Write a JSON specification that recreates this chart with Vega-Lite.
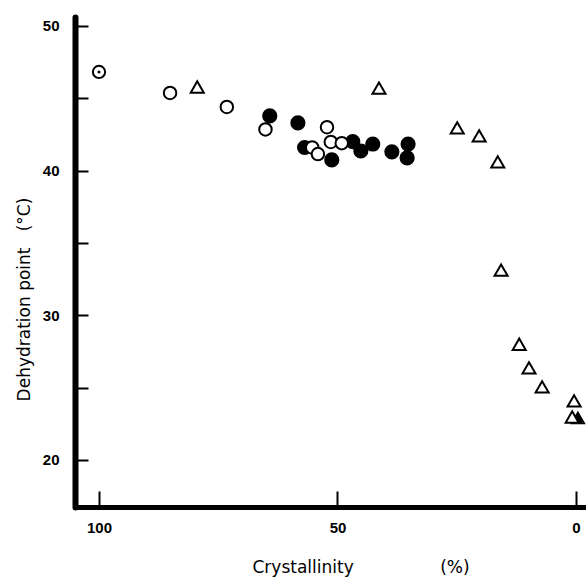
{
  "$schema": "https://vega.github.io/schema/vega-lite/v6.json",
  "autosize": {"type": "none"},
  "padding": {"left": 75, "top": 17, "right": 0, "bottom": 70},
  "width": 511,
  "height": 490,
  "background": "white",
  "config": {"view": {"stroke": null}},
  "data": {"values": [
    {"x": 100, "y": 46.82, "type": "dot"},
    {"x": 85.1, "y": 45.37, "type": "open"},
    {"x": 73.2, "y": 44.4, "type": "open"},
    {"x": 65.1, "y": 42.85, "type": "open"},
    {"x": 55.3, "y": 41.6, "type": "open"},
    {"x": 54.1, "y": 41.15, "type": "open"},
    {"x": 52.2, "y": 43.0, "type": "open"},
    {"x": 51.4, "y": 41.98, "type": "open"},
    {"x": 49.1, "y": 41.9, "type": "open"},
    {"x": 64.2, "y": 43.78, "type": "filled"},
    {"x": 58.3, "y": 43.3, "type": "filled"},
    {"x": 56.9, "y": 41.6, "type": "filled"},
    {"x": 51.2, "y": 40.74, "type": "filled"},
    {"x": 46.8, "y": 42.0, "type": "filled"},
    {"x": 45.1, "y": 41.36, "type": "filled"},
    {"x": 42.6, "y": 41.84, "type": "filled"},
    {"x": 38.6, "y": 41.3, "type": "filled"},
    {"x": 35.2, "y": 41.84, "type": "filled"},
    {"x": 35.4, "y": 40.88, "type": "filled"},
    {"x": 79.4, "y": 45.78, "type": "tri"},
    {"x": 41.3, "y": 45.7, "type": "tri"},
    {"x": 24.9, "y": 42.95, "type": "tri"},
    {"x": 20.3, "y": 42.4, "type": "tri"},
    {"x": 16.4, "y": 40.6, "type": "tri"},
    {"x": 15.7, "y": 33.13, "type": "tri"},
    {"x": 11.9, "y": 28.0, "type": "tri"},
    {"x": 9.85, "y": 26.36, "type": "tri"},
    {"x": 7.1, "y": 25.05, "type": "tri"},
    {"x": 0.4, "y": 24.08, "type": "tri"},
    {"x": 0.8, "y": 22.97, "type": "tri"},
    {"x": -0.4, "y": 22.9, "type": "trifilled"}
  ]},
  "encoding": {
    "x": {
      "field": "x", "type": "quantitative",
      "scale": {"domain": [-2.1, 105.03], "reverse": true, "nice": false, "zero": false},
      "axis": {
        "values": [0, 50, 100],
        "grid": false,
        "domainColor": "black", "domainWidth": 5,
        "tickColor": "black", "tickWidth": 2, "tickSize": -16,
        "labelPadding": 29, "labelFlush": false,
        "labelFont": "Liberation Sans", "labelFontSize": 15, "labelFontWeight": "bold", "labelColor": "black",
        "title": "Crystallinity\u00a0\u00a0\u00a0\u00a0\u00a0\u00a0\u00a0\u00a0\u00a0\u00a0\u00a0\u00a0\u00a0\u00a0\u00a0\u00a0(%)",
        "titleFont": "DejaVu Sans", "titleFontSize": 17, "titleFontWeight": "normal", "titleColor": "black",
        "titleAnchor": "start", "titleAlign": "left", "titleBaseline": "alphabetic",
        "titleX": 177, "titleY": 65
      }
    },
    "y": {
      "field": "y", "type": "quantitative",
      "scale": {"domain": [16.75, 50.62], "nice": false, "zero": false},
      "axis": {
        "values": [20, 25, 30, 35, 40, 45, 50],
        "labelExpr": "datum.value % 10 === 0 ? datum.label : ''",
        "grid": false,
        "domainColor": "black", "domainWidth": 6, "domainCap": "round",
        "tickColor": "black", "tickWidth": 2, "tickSize": -13,
        "labelPadding": 29,
        "labelFont": "Liberation Sans", "labelFontSize": 15, "labelFontWeight": "bold", "labelColor": "black",
        "title": "Dehydration point\u00a0\u00a0\u00a0(°C)",
        "titleFont": "DejaVu Sans", "titleFontSize": 17, "titleFontWeight": "normal", "titleColor": "black",
        "titleAngle": -90, "titleAlign": "center", "titleBaseline": "alphabetic",
        "titleX": -46, "titleY": 282
      }
    }
  },
  "layer": [
    {
      "transform": [{"filter": "datum.type === 'filled'"}],
      "mark": {"type": "point", "shape": "circle", "filled": true, "fill": "black", "stroke": "black", "strokeWidth": 0, "size": 230, "opacity": 1}
    },
    {
      "transform": [{"filter": "datum.type === 'open'"}],
      "mark": {"type": "point", "shape": "circle", "filled": true, "fill": "white", "stroke": "black", "strokeWidth": 2, "size": 156, "opacity": 1}
    },
    {
      "transform": [{"filter": "datum.type === 'trifilled'"}],
      "mark": {"type": "point", "shape": "triangle-up", "filled": true, "fill": "black", "stroke": "black", "strokeWidth": 2, "size": 150, "opacity": 1}
    },
    {
      "transform": [{"filter": "datum.type === 'tri'"}],
      "mark": {"type": "point", "shape": "triangle-up", "filled": true, "fill": "white", "stroke": "black", "strokeWidth": 2, "size": 170, "opacity": 1}
    },
    {
      "transform": [{"filter": "datum.type === 'dot'"}],
      "mark": {"type": "point", "shape": "circle", "filled": true, "fill": "white", "stroke": "black", "strokeWidth": 2, "size": 150, "opacity": 1}
    },
    {
      "transform": [{"filter": "datum.type === 'dot'"}],
      "mark": {"type": "point", "shape": "circle", "filled": true, "fill": "black", "strokeWidth": 0, "size": 9, "opacity": 1}
    }
  ]
}
